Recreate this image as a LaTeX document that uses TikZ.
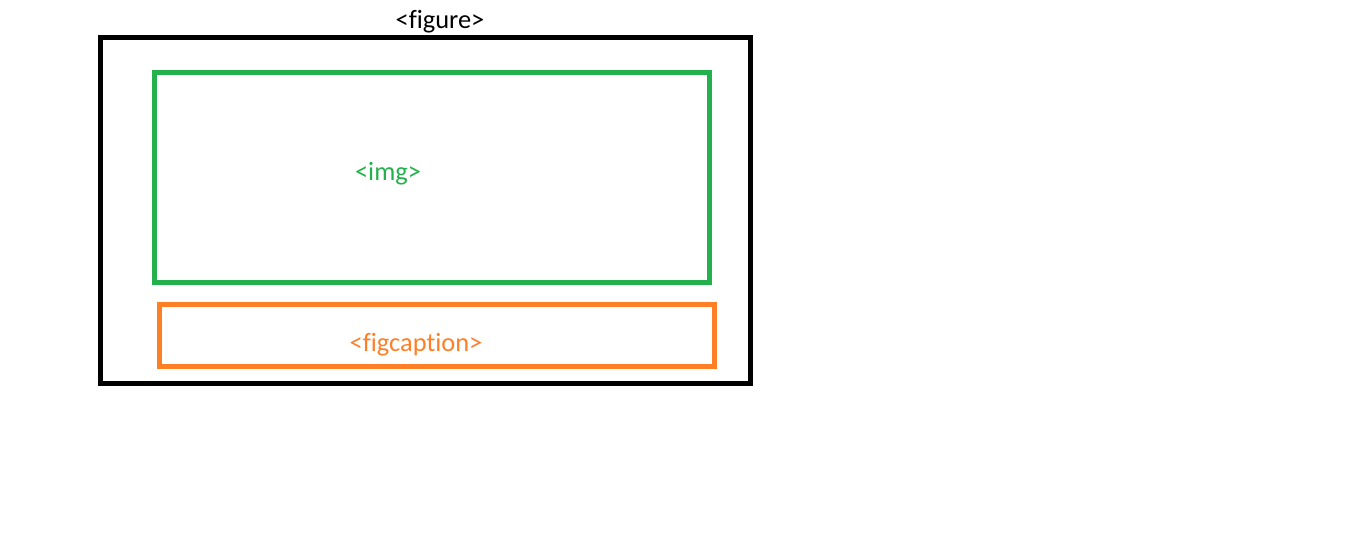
\documentclass[tikz,border=0pt]{standalone}
\usepackage{fontspec}
\setmainfont[Ligatures=NoCommon]{Carlito}
\definecolor{pgreen}{HTML}{22B14C}
\definecolor{porange}{HTML}{FF7F27}
\begin{document}
\begin{tikzpicture}[x=0.75pt,y=-0.75pt,
  frame/.style={draw, line width=3.75pt, rectangle},
  lbl/.style={font=\fontsize{19.8}{22}\selectfont, inner sep=0pt}]
\useasboundingbox[fill=white] (0,0) rectangle (1360,543);
\draw[frame, black] (100,37.5) rectangle (750,383);
\draw[frame, pgreen] (154,72) rectangle (709.5,282);
\draw[frame, porange] (159.5,304) rectangle (714.5,366);
\node[lbl, black] (fig) at (440,21.5) {<figure>};
\node[lbl, pgreen] (img) at (388,173.5) {<img>};
\node[lbl, porange] (cap) at (416,344.5) {<figcaption>};
\end{tikzpicture}
\end{document}
